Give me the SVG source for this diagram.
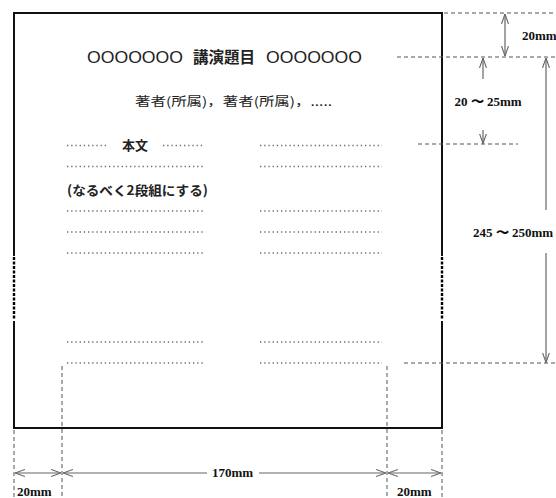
<svg xmlns="http://www.w3.org/2000/svg" width="556" height="498" viewBox="0 0 556 498">
<style>
.border{stroke:#111;stroke-width:2;fill:none}
.bdot{stroke:#000;stroke-width:2.4;fill:none;stroke-dasharray:3 1.5}
.guide{stroke:#555;stroke-width:1;fill:none;stroke-dasharray:4 3}
.dots{stroke:#6a6a6a;stroke-width:1.3;fill:none;stroke-dasharray:1.3 2.9}
.arr{stroke:#666;stroke-width:1.2;fill:none}
.dim{font-family:"Liberation Serif",serif;font-weight:bold;font-size:13px;fill:#111}
.jp{font-family:"Noto Sans CJK JP","Noto Sans",sans-serif;fill:#222}
</style>
<defs>
<marker id="ah" viewBox="0 0 10 8" refX="10" refY="4" markerWidth="10" markerHeight="8" markerUnits="userSpaceOnUse" orient="auto-start-reverse">
<path d="M0,0.5 L10,4 L0,7.5" fill="none" stroke="#666" stroke-width="1.1"/>
</marker>
</defs>
<rect width="556" height="498" fill="#fff"/>

<g id="page">
<path class="border" d="M14,321 L14,428 L442,428 L442,321 M14,256 L14,13 L442,13 L442,256"/>
<path class="bdot" d="M14,257 L14,320 M442,257 L442,320"/>
</g>

<g id="title">
<text class="jp" x="87" y="63" font-size="16" textLength="96" lengthAdjust="spacingAndGlyphs" style="font-family:'Liberation Sans',sans-serif">OOOOOOO</text>
<text class="jp" x="193" y="63" font-size="15.5" font-weight="bold" textLength="62" lengthAdjust="spacingAndGlyphs">講演題目</text>
<text class="jp" x="266" y="63" font-size="16" textLength="96" lengthAdjust="spacingAndGlyphs" style="font-family:'Liberation Sans',sans-serif">OOOOOOO</text>
</g>

<g id="authors">
<text class="jp" x="135" y="106" font-size="12.5" textLength="197" lengthAdjust="spacingAndGlyphs">著者(所属)，著者(所属)，.....</text>
</g>

<g id="body">
<text class="jp" x="122" y="150" font-size="13" font-weight="bold" textLength="26" lengthAdjust="spacingAndGlyphs">本文</text>
<text class="jp" x="67" y="195" font-size="13" font-weight="bold" textLength="141" lengthAdjust="spacingAndGlyphs">(なるべく2段組にする)</text>
<path class="dots" d="M67,145.5 H106 M163,145.5 H203 M260,145.5 H382
M67,166.5 H203 M260,166.5 H382
M67,211 H203 M260,211 H382
M67,232 H203 M260,232 H382
M67,253 H203 M260,253 H382
M67,342 H203 M260,342 H382
M67,363 H203 M260,363 H382"/>
</g>

<g id="guides">
<path class="guide" d="M444,13 H556 M397,57 H556 M418,144 H518 M404,363 H556
M62,366 V498 M387,366 V498 M14,430 V498 M442,430 V498"/>
</g>

<g id="connectors">
<path class="arr" d="M505,14 V56" marker-start="url(#ah)" marker-end="url(#ah)"/>
<path class="arr" d="M483,79 V58" marker-end="url(#ah)"/>
<path class="arr" d="M483,130 V143.5" marker-end="url(#ah)"/>
<path class="arr" d="M546,210 V58" marker-end="url(#ah)"/>
<path class="arr" d="M546,253 V362.5" marker-end="url(#ah)"/>
<path class="arr" d="M15,473 H61" marker-start="url(#ah)" marker-end="url(#ah)"/>
<path class="arr" d="M207,473 H63" marker-end="url(#ah)"/>
<path class="arr" d="M259,473 H386" marker-end="url(#ah)"/>
<path class="arr" d="M388,473 H441" marker-start="url(#ah)" marker-end="url(#ah)"/>
</g>

<g id="labels">
<text class="dim" x="522" y="40">20mm</text>
<text class="dim" x="488" y="106" text-anchor="middle">20 〜 25mm</text>
<text class="dim" x="473" y="237">245 〜 250mm</text>
<text class="dim" x="232.5" y="477" text-anchor="middle">170mm</text>
<text class="dim" x="17" y="496">20mm</text>
<text class="dim" x="397" y="496">20mm</text>
</g>
</svg>
